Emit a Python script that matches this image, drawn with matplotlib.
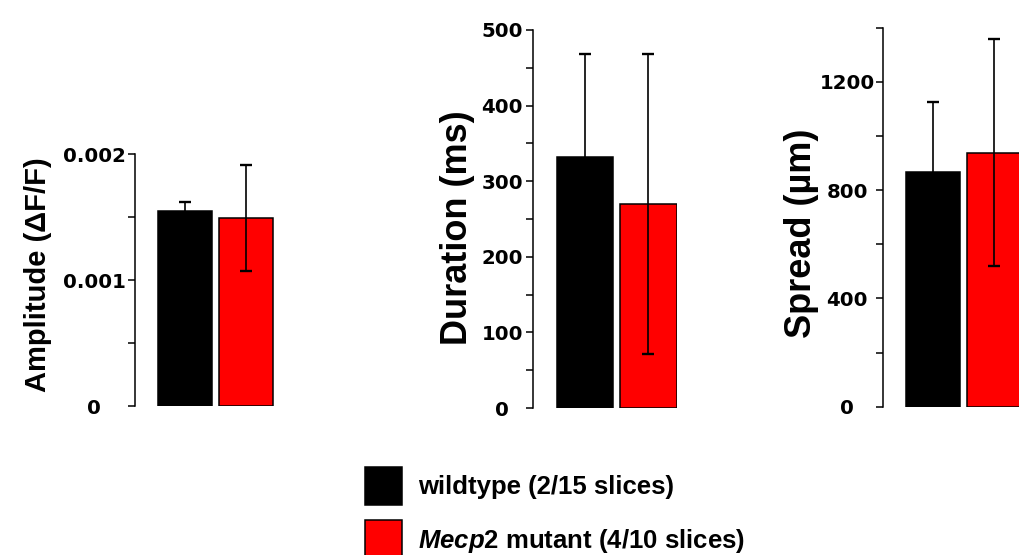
import matplotlib
matplotlib.use("Agg")
import matplotlib.pyplot as plt

# data
groups = ["wildtype (2/15 slices)", r"$\mathit{Mecp2}$ mutant (4/10 slices)"]
bar_colors = ["#000000", "#ff0000"]

amplitude_mean = [0.00155, 0.00149]
amplitude_err = [0.00007, 0.00042]
amplitude_ticks = [0, 0.001, 0.002]
amplitude_labels = ["0", "0.001", "0.002"]
amplitude_minor = [0.0005, 0.0015]

duration_mean = [332, 270]
duration_err = [136, 198]
duration_ticks = [0, 100, 200, 300, 400, 500]
duration_labels = ["0", "100", "200", "300", "400", "500"]
duration_minor = [50, 150, 250, 350, 450]

spread_mean = [866, 938]
spread_err = [258, 420]
spread_ticks = [0, 400, 800, 1200]
spread_labels = ["0", "400", "800", "1200"]
spread_minor = [200, 600, 1000, 1400]

plt.rcParams["mathtext.fontset"] = "custom"
plt.rcParams["mathtext.it"] = "Liberation Sans:italic:bold"
plt.rcParams["mathtext.rm"] = "Liberation Sans:bold"

W, H = 1019, 555
fig = plt.figure(figsize=(W / 100, H / 100), dpi=100)


def add_panel(rect_px, mean, err, ticks, labels, minor, ylim, ylabel,
              label_size, label_xy, pad):
    left, bottom, width, height = rect_px
    ax = fig.add_axes([left / W, bottom / H, width / W, height / H])
    x = [0, 1]
    bars = ax.bar(x, mean, width=0.885, color=bar_colors, edgecolor="black",
                  linewidth=1.1, zorder=2)
    ax.errorbar(x, mean, yerr=err, fmt="none", ecolor="black", elinewidth=1.2,
                capsize=4, capthick=1.7, zorder=3)
    ax.set_xlim(-0.82, 1.45)
    ax.set_ylim(*ylim)
    ax.set_xticks([])
    ax.set_yticks(ticks, labels=labels, ha="center")
    ax.set_yticks(minor, minor=True)
    for lbl in ax.get_yticklabels():
        lbl.set_fontfamily("DejaVu Sans")
        lbl.set_fontweight("bold")
        lbl.set_fontsize(14.2)
    ax.tick_params(axis="y", which="both", direction="out", length=4.8,
                   width=1.1, pad=pad)
    for s in ["top", "right", "bottom"]:
        ax.spines[s].set_visible(False)
    ax.spines["left"].set_linewidth(1.1)
    ax.set_ylabel(ylabel, fontsize=label_size, fontweight="bold",
                  family="Liberation Sans")
    ax.yaxis.label.set_va("center")
    ax.yaxis.set_label_coords(*label_xy)
    ax.patch.set_visible(False)
    return ax, bars


ax1, bars1 = add_panel((135, 149, 138.5, 252), amplitude_mean, amplitude_err,
                       amplitude_ticks, amplitude_labels, amplitude_minor,
                       (0, 0.002), "Amplitude (\u0394F/F)", 21, (-0.70, 0.52),
                       24.5)
ax2, _ = add_panel((533, 147, 144, 378), duration_mean, duration_err,
                   duration_ticks, duration_labels, duration_minor,
                   (0, 500), "Duration (ms)", 26, (-0.526, 0.476), 17.3)
ax3, _ = add_panel((883, 148.3, 138.5, 379), spread_mean, spread_err,
                   spread_ticks, spread_labels, spread_minor,
                   (0, 1400), "Spread (\u00b5m)", 26, (-0.585, 0.458), 21)

fig.legend(bars1.patches, groups, loc="upper left",
           bbox_to_anchor=(365 / W, 1 - 467 / H), frameon=False,
           prop={"family": "Liberation Sans", "weight": "bold", "size": 18.5},
           handlelength=1.45, handleheight=1.9, handletextpad=0.62,
           labelspacing=0.6, borderpad=0, borderaxespad=0)

fig.savefig("out.png", dpi=100)
